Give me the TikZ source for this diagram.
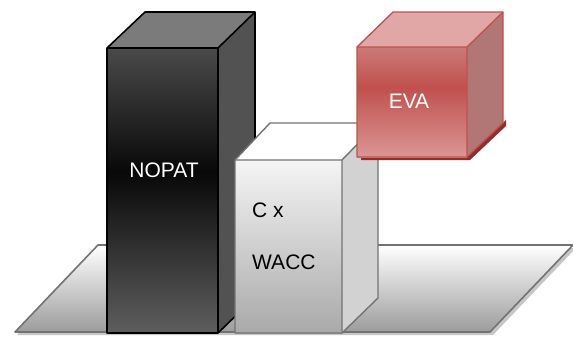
\documentclass[tikz,border=0pt]{standalone}
\usepackage{fontspec}
\setmainfont{Liberation Sans}
\begin{document}
\begin{tikzpicture}[x=1pt,y=-1pt,
  lbl/.style={font=\fontsize{21}{25}\selectfont, inner sep=0pt},
  darkedge/.style={draw=black, line width=1.6pt, line join=round},
  greyedge/.style={draw=black!55, line width=1.4pt, line join=round},
  redge/.style={draw=eline, line width=1.3pt, line join=round}]
\definecolor{plat}{HTML}{9C9C9C}
\definecolor{platline}{HTML}{737373}
\definecolor{nside}{HTML}{525252}
\definecolor{ntop}{HTML}{7B7B7B}
\definecolor{nfronttop}{HTML}{4A4A4A}
\definecolor{nfrontmid}{HTML}{080808}
\definecolor{nfrontbot}{HTML}{5E5E5E}
\definecolor{wside}{HTML}{D2D2D2}
\definecolor{wbot}{HTML}{A9A9A9}
\definecolor{etop}{HTML}{E0A7A6}
\definecolor{eside}{HTML}{B07775}
\definecolor{efronttop}{HTML}{CB7A78}
\definecolor{efrontmid}{HTML}{C0504D}
\definecolor{efrontbot}{HTML}{DA9694}
\definecolor{eline}{HTML}{C0504D}
\definecolor{eshadow}{HTML}{8E2F2D}
\useasboundingbox (0,0) rectangle (573,338);
% platform shadow
\fill[black!22] (17,335) -- (100,248) -- (576,248) -- (493,335) -- cycle;
% platform
\shade[top color=white, bottom color=plat] (15,332) -- (98,245) -- (573,245) -- (490,332) -- cycle;
\draw[draw=platline, line width=1.6pt, line join=round] (15,332) -- (98,245) -- (573,245) -- (490,332) -- cycle;
% NOPAT box
\fill[nside] (218,48) -- (255,12) -- (255,297) -- (218,333) -- cycle;
\fill[ntop] (107,48) -- (145,12) -- (255,12) -- (218,48) -- cycle;
\shade[top color=nfronttop, bottom color=nfrontmid] (107,48) rectangle (218,172.5);
\shade[top color=nfrontmid, bottom color=nfrontbot] (107,172) rectangle (218,333);
\draw[darkedge] (107,48) -- (145,12) -- (255,12) -- (255,297) -- (218,333) -- (107,333) -- cycle;
\draw[darkedge] (107,48) -- (218,48) -- (255,12) (218,48) -- (218,333);
\node[lbl, text=white] (nopat) at (164,170) {NOPAT};
% C x WACC box
\fill[wside] (342,160) -- (378,123) -- (378,298) -- (342,333) -- cycle;
\fill[white] (235,160) -- (270,123) -- (378,123) -- (342,160) -- cycle;
\shade[top color=white!96!black, bottom color=wbot] (235,160) rectangle (342,333);
\draw[greyedge] (235,160) -- (270,123) -- (378,123) -- (378,298) -- (342,333) -- (235,333) -- cycle;
\draw[greyedge] (235,160) -- (342,160) -- (378,123) (342,160) -- (342,333);
\node[lbl, anchor=west] (cx) at (252,210) {C x};
\node[lbl, anchor=west] (wacc) at (252,262) {WACC};
% EVA box
\fill[eshadow] (361,160) -- (470,160) -- (506,126) -- (506,120) -- (470,154) -- (361,154) -- cycle;
\fill[eside] (467,47) -- (503,12) -- (503,123) -- (467,157) -- cycle;
\fill[etop] (357,47) -- (393,12) -- (503,12) -- (467,47) -- cycle;
\shade[top color=efronttop, bottom color=efrontmid] (357,47) rectangle (467,87.5);
\shade[top color=efrontmid, bottom color=efrontbot] (357,87) rectangle (467,157);
\draw[redge] (357,47) -- (393,12) -- (503,12) -- (503,123) -- (467,157) -- (357,157) -- cycle;
\draw[redge] (357,47) -- (467,47) -- (503,12) (467,47) -- (467,157);
\node[lbl, text=white] (eva) at (409,101) {EVA};
\end{tikzpicture}
\end{document}
